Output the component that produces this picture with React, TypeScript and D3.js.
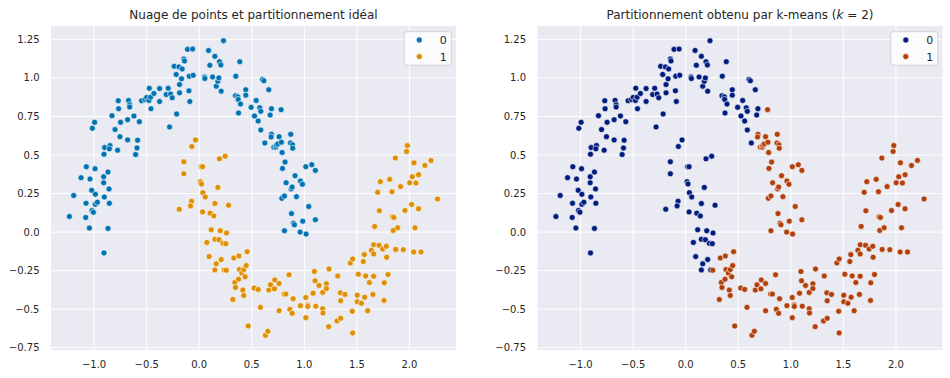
import React, { useMemo } from "react";
import * as d3 from "d3";

// Points of the "ideal" partition (true labels)
const class0: [number, number][] = [
  [-1.235, 0.101], [-1.194, 0.237], [-1.124, 0.353], [-1.074, 0.424], [-1.077, 0.187],
  [-1.08, 0.095], [-1.045, 0.026], [-1.039, 0.344], [-1.023, 0.271], [-1.017, 0.673],
  [-0.995, 0.712], [-0.991, 0.411], [-0.988, 0.245], [-0.988, 0.18], [-0.969, 0.194],
  [-1.02, 0.14], [-1.007, 0.129], [-0.906, -0.135], [-0.909, 0.32], [-0.909, 0.359],
  [-0.903, 0.228], [-0.906, 0.505], [-0.9, 0.548], [-0.868, 0.389], [-0.858, 0.28],
  [-0.855, 0.187], [-0.868, 0.024], [-0.849, 0.561], [-0.855, 0.54], [-0.83, 0.755],
  [-0.801, 0.665], [-0.776, 0.531], [-0.77, 0.852], [-0.767, 0.8], [-0.754, 0.619],
  [-0.748, 0.712], [-0.681, 0.729], [-0.681, 0.598], [-0.672, 0.854], [-0.662, 0.826],
  [-0.662, 0.811], [-0.621, 0.753], [-0.605, 0.503], [-0.592, 0.546], [-0.586, 0.596],
  [-0.57, 0.716], [-0.548, 0.852], [-0.516, 0.86], [-0.5, 0.873], [-0.475, 0.933],
  [-0.478, 0.854], [-0.459, 0.8], [-0.462, 0.875], [-0.431, 0.899], [-0.377, 0.931],
  [-0.377, 0.847], [-0.314, 0.892], [-0.295, 0.933], [-0.282, 0.682], [-0.272, 0.895],
  [-0.257, 0.871], [-0.238, 1.075], [-0.219, 1.022], [-0.215, 0.766], [-0.193, 1.071],
  [-0.187, 0.957], [-0.187, 0.903], [-0.168, 0.994], [-0.162, 1.058], [-0.146, 1.123],
  [-0.14, 1.11], [-0.111, 1.185], [-0.098, 0.916], [-0.095, 1.011], [-0.089, 0.847],
  [-0.063, 1.187], [-0.057, 1.017], [0.051, 1.006], [0.054, 0.996], [0.089, 1.178],
  [0.101, 1.082], [0.127, 1.006], [0.149, 1.14], [0.162, 0.946], [0.177, 0.978],
  [0.187, 1.0], [0.193, 1.105], [0.206, 1.084], [0.209, 0.914], [0.231, 1.241],
  [0.348, 1.011], [0.345, 0.884], [0.367, 0.877], [0.371, 0.86], [0.374, 0.772],
  [0.386, 1.105], [0.393, 0.83], [0.443, 0.923], [0.443, 0.888], [0.494, 0.809],
  [0.526, 0.753], [0.542, 0.854], [0.561, 0.72], [0.576, 0.806], [0.586, 0.783],
  [0.586, 0.662], [0.602, 0.989], [0.615, 0.981], [0.624, 0.578], [0.662, 0.923],
  [0.675, 0.759], [0.687, 0.8], [0.687, 0.634], [0.684, 0.617], [0.71, 0.551],
  [0.729, 0.551], [0.735, 0.563], [0.748, 0.572], [0.76, 0.619], [0.779, 0.794],
  [0.782, 0.583], [0.789, 0.516], [0.792, 0.413], [0.786, 0.219], [0.811, 0.234],
  [0.817, 0.454], [0.827, 0.32], [0.811, 0.009], [0.871, 0.634], [0.868, 0.578],
  [0.875, 0.28], [0.878, 0.12], [0.887, 0.566], [0.89, 0.544], [0.884, 0.292],
  [0.897, 0.058], [0.906, 0.047], [0.912, 0.366], [0.925, 0.23], [0.963, 0.331],
  [0.982, 0.31], [0.96, 0.0], [0.985, 0.071], [1.014, 0.424], [1.017, -0.013],
  [1.042, 0.166], [1.071, 0.437], [1.105, 0.4], [1.105, 0.08],
];

const class1: [number, number][] = [
  [-0.035, 0.598], [-0.07, 0.555], [-0.146, 0.456], [-0.146, 0.378], [-0.19, 0.148],
  [-0.073, 0.2], [-0.082, 0.17], [0.013, 0.327], [0.022, 0.312], [0.019, 0.424],
  [0.032, 0.424], [0.035, 0.256], [0.057, 0.228], [0.032, 0.131], [0.073, -0.067],
  [0.095, -0.159], [0.105, 0.123], [0.114, 0.015], [0.139, 0.105], [0.149, 0.185],
  [0.149, -0.047], [0.149, -0.245], [0.162, -0.206], [0.177, 0.29], [0.187, -0.049],
  [0.193, 0.475], [0.2, 0.009], [0.209, -0.178], [0.225, -0.073], [0.238, -0.245],
  [0.247, 0.492], [0.26, -0.006], [0.253, -0.075], [0.257, -0.247], [0.279, 0.174],
  [0.32, -0.437], [0.329, -0.168], [0.339, -0.327], [0.345, -0.359], [0.377, -0.155],
  [0.374, -0.305], [0.383, -0.243], [0.405, -0.265], [0.415, -0.376], [0.424, -0.411],
  [0.424, -0.243], [0.437, -0.29], [0.447, -0.217], [0.456, -0.127], [0.466, -0.609],
  [0.523, -0.363], [0.561, -0.372], [0.583, -0.488], [0.63, -0.669], [0.653, -0.643],
  [0.662, -0.376], [0.678, -0.342], [0.716, -0.368], [0.719, -0.31], [0.76, -0.51],
  [0.76, -0.333], [0.808, -0.402], [0.824, -0.402], [0.855, -0.277], [0.862, -0.501],
  [0.884, -0.527], [0.893, -0.432], [0.963, -0.477], [1.014, -0.424], [1.014, -0.555],
  [1.033, -0.473], [1.033, -0.482], [1.083, -0.396], [1.096, -0.256], [1.102, -0.316],
  [1.109, -0.48], [1.14, -0.346], [1.175, -0.391], [1.175, -0.497], [1.178, -0.525],
  [1.21, -0.335], [1.21, -0.366], [1.232, -0.613], [1.235, -0.239], [1.318, -0.284],
  [1.311, -0.576], [1.343, -0.394], [1.346, -0.445], [1.346, -0.559], [1.387, -0.404],
  [1.438, -0.2], [1.46, -0.174], [1.456, -0.514], [1.46, -0.654], [1.504, -0.409],
  [1.504, -0.452], [1.514, -0.273], [1.543, -0.462], [1.561, -0.191], [1.571, -0.146],
  [1.574, -0.422], [1.584, -0.284], [1.603, -0.51], [1.619, -0.327], [1.638, -0.118],
  [1.653, -0.404], [1.66, -0.286], [1.66, -0.082], [1.66, -0.142], [1.669, 0.037],
  [1.698, 0.258], [1.711, -0.086], [1.714, 0.138], [1.723, 0.327], [1.745, -0.11],
  [1.758, -0.443], [1.761, -0.329], [1.78, -0.092], [1.783, -0.163], [1.796, -0.275],
  [1.812, 0.342], [1.834, 0.262], [1.84, 0.099], [1.853, 0.095], [1.846, 0.011],
  [1.866, 0.48], [1.869, -0.112], [1.888, 0.028], [1.916, 0.295], [1.942, -0.114],
  [1.958, 0.14], [1.973, 0.523], [1.98, 0.561], [2.002, 0.32], [2.021, 0.179],
  [2.027, 0.359], [2.04, -0.129], [2.043, 0.449], [2.053, 0.028], [2.062, 0.318],
  [2.087, 0.372], [2.087, 0.151], [2.11, -0.129], [2.148, 0.432], [2.205, 0.465],
  [2.268, 0.215],
];

const xTicks = [-1.0, -0.5, 0.0, 0.5, 1.0, 1.5, 2.0];
const yTicks = [-0.75, -0.5, -0.25, 0.0, 0.25, 0.5, 0.75, 1.0, 1.25];
const legendLabels = ["0", "1"];
const paletteIdeal = ["#0173b2", "#de8f05"];
const paletteKmeans = ["#001c7f", "#b1400d"];

type Pt = { x: number; y: number; truth: number };

function kmeans2(pts: Pt[]): number[] {
  const xs = pts.map((p) => p.x);
  let c0 = pts[d3.minIndex(xs)];
  let c1 = pts[d3.maxIndex(xs)];
  let cents = [
    [c0.x, c0.y],
    [c1.x, c1.y],
  ];
  let labels = pts.map(() => 0);
  for (let it = 0; it < 200; it++) {
    labels = pts.map((p) => {
      const d0 = (p.x - cents[0][0]) ** 2 + (p.y - cents[0][1]) ** 2;
      const d1 = (p.x - cents[1][0]) ** 2 + (p.y - cents[1][1]) ** 2;
      return d0 <= d1 ? 0 : 1;
    });
    const nc = [0, 1].map((k) => {
      const g = pts.filter((_, i) => labels[i] === k);
      return [d3.mean(g, (p) => p.x) as number, d3.mean(g, (p) => p.y) as number];
    });
    cents = nc;
  }
  if (cents[0][0] > cents[1][0]) labels = labels.map((l) => 1 - l);
  return labels;
}

const FONT = "DejaVu Sans, sans-serif";
const TXT = "#262626";

function fmt(v: number) {
  const s = v.toFixed(Number.isInteger(v * 2) ? 1 : 2);
  return s.replace("-", "\u2212");
}

function Panel({
  left,
  right,
  top,
  bottom,
  pts,
  labels,
  colors,
  title,
  xDomain,
  yDomain,
}: {
  left: number;
  right: number;
  top: number;
  bottom: number;
  pts: Pt[];
  labels: number[];
  colors: string[];
  title: React.ReactNode;
  xDomain: [number, number];
  yDomain: [number, number];
}) {
  const x = d3.scaleLinear().domain(xDomain).range([left, right]);
  const y = d3.scaleLinear().domain(yDomain).range([bottom, top]);
  const r = 3;
  const lgX = right - 51.7;
  const lgY = top + 5.7;
  return (
    <g>
      <rect x={left} y={top} width={right - left} height={bottom - top} fill="#eaeaf2" />
      {xTicks.map((t) => (
        <line key={"gx" + t} x1={x(t)} x2={x(t)} y1={top} y2={bottom} stroke="#fff" strokeWidth={1} />
      ))}
      {yTicks.map((t) => (
        <line key={"gy" + t} x1={left} x2={right} y1={y(t)} y2={y(t)} stroke="#fff" strokeWidth={1} />
      ))}
      {xTicks.map((t) => (
        <text key={"tx" + t} x={x(t)} y={368} textAnchor="middle" fontSize={10} fill={TXT} fontFamily={FONT}>
          {fmt(t)}
        </text>
      ))}
      {yTicks.map((t) => (
        <text key={"ty" + t} x={left - 11.5} y={y(t) + 3.6} textAnchor="end" fontSize={10} fill={TXT} fontFamily={FONT}>
          {fmt(t)}
        </text>
      ))}
      <text x={(left + right) / 2} y={18.6} textAnchor="middle" fontSize={12} fill={TXT} fontFamily={FONT}>
        {title}
      </text>
      {pts.map((p, i) => (
        <circle key={i} cx={x(p.x)} cy={y(p.y)} r={r} fill={colors[labels[i]]} stroke="#fff" strokeWidth={0.6} />
      ))}
      <rect x={lgX} y={lgY} width={47} height={33.5} rx={2.5} fill="#ffffff" fillOpacity={0.8} stroke="#cccccc" strokeOpacity={0.8} strokeWidth={1} />
      {legendLabels.map((l, i) => (
        <g key={"lg" + l}>
          <circle cx={lgX + 15} cy={lgY + 8.3 + i * 16.6} r={r} fill={colors[i]} stroke="#fff" strokeWidth={0.6} />
          <text x={lgX + 39} y={lgY + 8.3 + i * 16.6 + 4} textAnchor="middle" fontSize={11} fill={TXT} fontFamily={FONT}>
            {l}
          </text>
        </g>
      ))}
    </g>
  );
}

export default function App() {
  const pts: Pt[] = useMemo(
    () => [
      ...class0.map(([x, y]) => ({ x, y, truth: 0 })),
      ...class1.map(([x, y]) => ({ x, y, truth: 1 })),
    ],
    []
  );
  const truth = pts.map((p) => p.truth);
  const km = useMemo(() => kmeans2(pts), [pts]);
  const [x0, x1] = d3.extent(pts, (p) => p.x) as [number, number];
  const [y0, y1] = d3.extent(pts, (p) => p.y) as [number, number];
  const mx = (x1 - x0) * 0.05;
  const my = (y1 - y0) * 0.05;
  const xDomain: [number, number] = [x0 - mx, x1 + mx];
  const yDomain: [number, number] = [y0 - my, y1 + my];
  return (
    <svg width={950} height={378} style={{ position: "absolute", left: 0, top: 0, background: "#fff" }}>
      <Panel
        left={51}
        right={456}
        top={26}
        bottom={350}
        pts={pts}
        labels={truth}
        colors={paletteIdeal}
        title="Nuage de points et partitionnement idéal"
        xDomain={xDomain}
        yDomain={yDomain}
      />
      <Panel
        left={537.5}
        right={942.5}
        top={26}
        bottom={350}
        pts={pts}
        labels={km}
        colors={paletteKmeans}
        title={
          <>
            Partitionnement obtenu par k-means (<tspan fontStyle="italic">k</tspan> = 2)
          </>
        }
        xDomain={xDomain}
        yDomain={yDomain}
      />
    </svg>
  );
}
